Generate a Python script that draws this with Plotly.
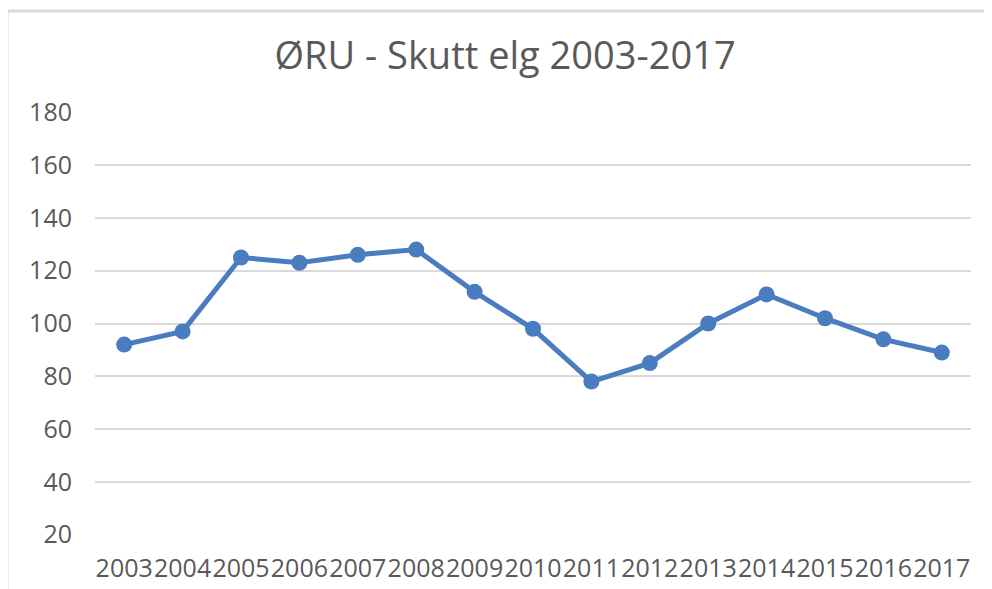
import plotly.graph_objects as go

years = ["2003", "2004", "2005", "2006", "2007", "2008", "2009", "2010",
         "2011", "2012", "2013", "2014", "2015", "2016", "2017"]
skutt = [92, 97, 125, 123, 126, 128, 112, 98, 78, 85, 100, 111, 102, 94, 89]
y_ticks = [20, 40, 60, 80, 100, 120, 140, 160, 180]

OFF = 8  # page body margin offset
W, H = 992, 589
# plot area in reference pixels: x 95..971, y 112..535
L = 95 - OFF
T = 112 - OFF
R = W - (971 - OFF)
B = H - (535 - OFF)
pw, ph = W - L - R, H - T - B

def px_x(px):
    return (px - OFF - L) / pw

def px_y(py):
    return (H - B - (py - OFF)) / ph

fig = go.Figure()
fig.add_trace(go.Scatter(
    x=years, y=skutt, mode="lines+markers",
    line=dict(color="#4A7CC0", width=5),
    marker=dict(color="#4A7CC0", size=16),
    showlegend=False,
))

fig.update_layout(
    width=W, height=H,
    margin=dict(l=L, r=R, t=T, b=B),
    paper_bgcolor="white", plot_bgcolor="white",
    font=dict(family="Open Sans, Lato, sans-serif", color="#595959"),
    title=dict(text="ØRU - Skutt elg 2003-2017", x=(505 - OFF) / W, xanchor="center",
               y=1 - (56 - OFF) / H, yanchor="middle",
               font=dict(size=38, color="#595959")),
    xaxis=dict(type="category", range=[-0.5, 14.5], showgrid=False,
               showline=False, ticks="", tickfont=dict(size=25, color="#595959"),
               tickangle=0, automargin=False, ticklabelstandoff=16),
    yaxis=dict(range=[19.9, 180.1], tickvals=y_ticks, showgrid=True,
               gridcolor="#D9D9D9", gridwidth=1.5, zeroline=False, showline=False,
               ticks="", tickfont=dict(size=25, color="#595959"),
               automargin=False, ticklabelstandoff=22),
    shapes=[
        dict(type="line", xref="paper", yref="paper",
             x0=px_x(7), x1=px_x(7), y0=px_y(620), y1=px_y(11),
             line=dict(color="#D9D9D9", width=3)),
        dict(type="line", xref="paper", yref="paper",
             x0=px_x(7), x1=px_x(1020), y0=px_y(11), y1=px_y(11),
             line=dict(color="#D9D9D9", width=3)),
    ],
)

fig.write_html("out.html")
